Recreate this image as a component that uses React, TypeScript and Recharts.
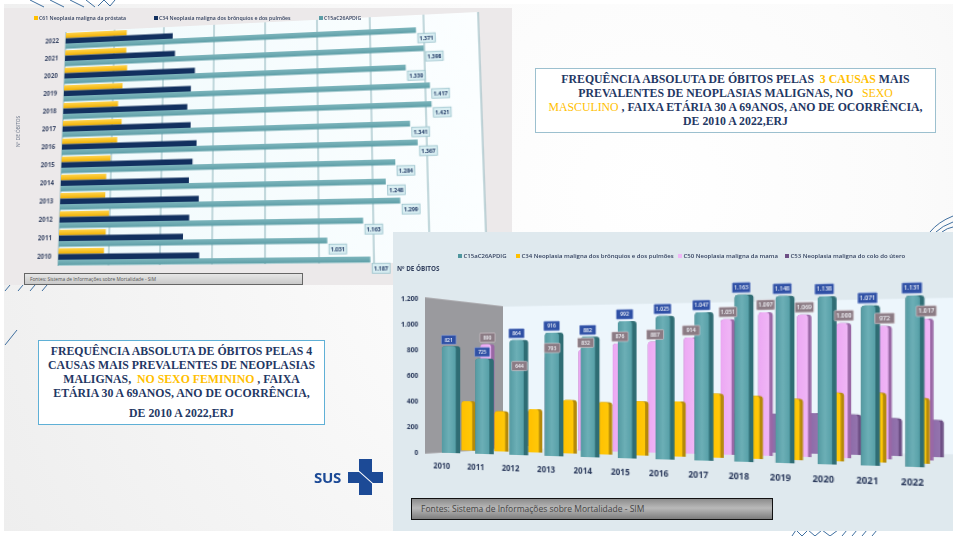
import { Bar, BarChart, CartesianGrid, LabelList, XAxis, YAxis } from "recharts";

type Pt = [number, number];

// Male panel, listed top row first
const maleYears = ["2022", "2021", "2020", "2019", "2018", "2017", "2016", "2015", "2014", "2013", "2012", "2011", "2010"];
const prostate = [250, 250, 255, 238, 222, 238, 222, 197, 182, 180, 197, 186, 181];
const lungMale = [436, 446, 526, 511, 498, 512, 536, 521, 508, 547, 511, 488, 551];
const colonMale = [1371, 1398, 1330, 1417, 1421, 1341, 1367, 1284, 1248, 1299, 1163, 1031, 1187];
const maleTicks = [0, 200, 400, 600, 800, 1000, 1200, 1400, 1600];

// Female panel
const femaleYears = ["2010", "2011", "2012", "2013", "2014", "2015", "2016", "2017", "2018", "2019", "2020", "2021", "2022"];
const colonFemale = [821, 725, 864, 916, 882, 992, 1025, 1047, 1163, 1148, 1138, 1071, 1131];
const lungFemale = [397, 320, 340, 414, 400, 410, 413, 474, 460, 442, 487, 489, 455];
const breast = [890, 644, 793, 832, 876, 887, 914, 1051, 1097, 1069, 1000, 972, 1017];
const cervix = [290, 300, 285, 295, 290, 300, 305, 310, 315, 325, 320, 295, 285];
const femaleTicks = [0, 200, 400, 600, 800, 1000, 1200];

const maleRows = maleYears.map((year, i) => ({ year, prostate: prostate[i], lung: lungMale[i], colon: colonMale[i] }));
const femaleRows = femaleYears.map((year, i) => ({
  year,
  colon: colonFemale[i],
  lung: lungFemale[i],
  breast: breast[i],
  cervix: cervix[i],
}));

const NAVY = "#1f3864";
const GOLD = "#ffc000";
const SANS = "'Open Sans', sans-serif";

const thousands = (n: number) =>
  n >= 1000 ? `${Math.floor(n / 1000)}.${String(n % 1000).padStart(3, "0")}` : String(n);

// Solves the 8x8 system for the projective map taking src corners to dst corners
function matrix3d(src: Pt[], dst: Pt[]) {
  const A: number[][] = [];
  src.forEach(([x, y], i) => {
    const [u, v] = dst[i];
    A.push([x, y, 1, 0, 0, 0, -u * x, -u * y, u]);
    A.push([0, 0, 0, x, y, 1, -v * x, -v * y, v]);
  });
  for (let c = 0; c < 8; c++) {
    let p = c;
    for (let r = c + 1; r < 8; r++) if (Math.abs(A[r][c]) > Math.abs(A[p][c])) p = r;
    [A[c], A[p]] = [A[p], A[c]];
    for (let r = 0; r < 8; r++) {
      if (r === c) continue;
      const f = A[r][c] / A[c][c];
      for (let k = c; k < 9; k++) A[r][k] -= f * A[c][k];
    }
  }
  const h = A.map((row, i) => row[8] / row[i]);
  return `matrix3d(${h[0]},${h[3]},0,${h[6]},${h[1]},${h[4]},0,${h[7]},0,0,1,0,${h[2]},${h[5]},0,1)`;
}

const rectCorners = (x: number, y: number, w: number, h: number): Pt[] => [
  [x, y],
  [x + w, y],
  [x + w, y + h],
  [x, y + h],
];

function Tilted({ src, dst, children }: { src: Pt[]; dst: Pt[]; children: any }) {
  return (
    <div style={{ position: "absolute", left: 0, top: 0, transformOrigin: "0 0", transform: matrix3d(src, dst) }}>
      {children}
    </div>
  );
}

function Legend({ items, top, size, fontSize }: { items: { x: number; name: string; color: string }[]; top: number; size: number; fontSize: number }) {
  return (
    <>
      {items.map((it) => (
        <div
          key={it.name}
          style={{ position: "absolute", left: it.x, top, display: "flex", alignItems: "center", gap: 1.5, whiteSpace: "nowrap", fontFamily: SANS, fontWeight: 600, fontSize, color: "#33415f", lineHeight: "8px" }}
        >
          <span style={{ width: size, height: size, background: it.color, display: "inline-block" }} />
          {it.name}
        </div>
      ))}
    </>
  );
}

/* ---------- horizontal bars, male panel ---------- */

function MaleValueLabel(props: any) {
  const { x, y, width, height, value } = props;
  const bx = x + width + 1.5;
  const cy = y + height / 2 + 8;
  return (
    <g>
      <rect x={bx} y={cy - 4.5} width={16} height={9} fill="#d9eef2" stroke="#9cc3cc" strokeWidth={0.8} />
      <text x={bx + 8} y={cy + 1.8} textAnchor="middle" fontSize={5} fontWeight={700} fontFamily={SANS} fill={NAVY}>
        {thousands(value)}
      </text>
    </g>
  );
}

function MaleChart() {
  const plotW = 400;
  const plotH = 234;
  return (
    <Tilted
      src={rectCorners(60, 10, plotW, plotH)}
      dst={[[66, 32], [478, 12], [487, 262], [58, 266]]}
    >
      <BarChart
        width={520}
        height={254}
        layout="vertical"
        data={maleRows}
        barSize={5.5}
        barGap={0}
        margin={{ top: 10, right: 60, bottom: 10, left: 0 }}
      >
        <defs>
          <linearGradient id="maleWall" x1="0" y1="0" x2="1" y2="0">
            <stop offset="0" stopColor="#f0fafc" />
            <stop offset="1" stopColor="#fbfeff" />
          </linearGradient>
          <linearGradient id="maleGold" x1="0" y1="0" x2="0" y2="1">
            <stop offset="0" stopColor="#ffd34d" />
            <stop offset="1" stopColor="#f0b000" />
          </linearGradient>
          <linearGradient id="maleTeal" x1="0" y1="0" x2="0" y2="1">
            <stop offset="0" stopColor="#7db5bc" />
            <stop offset="1" stopColor="#5d9ea7" />
          </linearGradient>
        </defs>
        <CartesianGrid horizontal={false} stroke="#8db4bb" fill="url(#maleWall)" />
        <XAxis type="number" domain={[0, 1600]} ticks={maleTicks} hide />
        <YAxis
          type="category"
          dataKey="year"
          width={60}
          interval={0}
          axisLine={false}
          tickLine={false}
          tickSize={0}
          tickMargin={7}
          tick={{ fontSize: 6.2, fontWeight: 700, fontFamily: SANS, fill: "#3a4766" }}
        />
        <Bar dataKey="prostate" fill="url(#maleGold)" isAnimationActive={false} />
        <Bar dataKey="lung" fill="#12305f" isAnimationActive={false} />
        <Bar dataKey="colon" fill="url(#maleTeal)" isAnimationActive={false}>
          <LabelList dataKey="colon" content={MaleValueLabel} />
        </Bar>
      </BarChart>
    </Tilted>
  );
}

/* ---------- columns, female panel ---------- */

// Series stand one behind the other: rows further back sit shifted, lifted and shrunk
const rowDepth = [
  { dx: [0, 0], lift: 0, ratio: [1, 1] },
  { dx: [19, 6], lift: 3, ratio: [0.95, 0.95] },
  { dx: [39, 9], lift: 6, ratio: [0.886, 0.915] },
  { dx: [50, 17], lift: 9, ratio: [0.85, 0.85] },
];

function columnBox(props: any, row: number) {
  const { x, y, width, height, index } = props;
  const t = index / 12;
  const d = rowDepth[row];
  const w = (row === 0 ? 20 : 15) - (row === 0 ? 5 : 3.5) * t;
  const cx = x + width / 2 + d.dx[0] + (d.dx[1] - d.dx[0]) * t;
  const base = y + height - d.lift;
  return { cx, w, base, top: base - height * (d.ratio[0] + (d.ratio[1] - d.ratio[0]) * t) };
}

const dome = (l: number, r: number, t: number, b: number) =>
  `M${l},${b} L${l},${t + 3} Q${l},${t} ${l + 3},${t} L${r - 3},${t} Q${r},${t} ${r},${t + 3} L${r},${b} Z`;

function makeColumn(row: number, gradient: string, side: string) {
  return (props: any) => {
    const { cx, w, base, top } = columnBox(props, row);
    const l = cx - w / 2;
    return (
      <g>
        <path d={dome(l, l + w, top, base)} fill={side} />
        <path d={dome(l, l + w * 0.76, top, base)} fill={`url(#${gradient})`} />
      </g>
    );
  };
}

function makeTag(row: number, fill: string, stroke: string) {
  return (props: any) => {
    const { value } = props;
    const { cx, top } = columnBox(props, row);
    const lx = cx - (row === 0 ? 2.5 : 0);
    return (
      <g>
        <rect x={lx - 8} y={top - 11} width={16} height={9} rx={0.8} fill={fill} stroke={stroke} strokeWidth={0.6} />
        <text x={lx} y={top - 4.6} textAnchor="middle" fontSize={5} fontWeight={600} fontFamily={SANS} fill="#f4f6fb">
          {thousands(value)}
        </text>
      </g>
    );
  };
}

// Year labels drift right along the floor
function YearTick({ x, y, payload, index }: any) {
  return (
    <text x={x - 10 + (8 * index) / 12} y={y + 8} textAnchor="middle" fontSize={8} fontWeight={700} fontFamily={SANS} fill="#2b3a5c">
      {payload.value}
    </text>
  );
}

function Wall({ dst, fill, stroke }: { dst: Pt[]; fill: string; stroke: string }) {
  return (
    <Tilted src={rectCorners(0, 0, 300, 150)} dst={dst}>
      <BarChart width={300} height={150} data={femaleRows} margin={{ top: 0, right: 0, bottom: 0, left: 0 }}>
        <XAxis dataKey="year" hide />
        <YAxis type="number" domain={[0, 1200]} ticks={femaleTicks} hide />
        <CartesianGrid vertical={false} fill={fill} stroke={stroke} />
      </BarChart>
    </Tilted>
  );
}

function FemaleChart() {
  const left = 40;
  const top = 30;
  const band = 36;
  const valueH = 156;
  const firstX = left + band / 2;
  const lastX = left + band * 12.5;
  return (
    <Tilted
      src={[[firstX, top], [lastX, top], [lastX, top + valueH], [firstX, top + valueH]]}
      dst={[[451, 297], [915, 285], [915, 467], [451, 453]]}
    >
      <BarChart
        width={left + band * 13 + 60}
        height={top + valueH + 34}
        data={femaleRows}
        barSize={20}
        barGap={-20}
        margin={{ top, right: 60, bottom: 0, left: 0 }}
      >
        <defs>
          <linearGradient id="colTeal" x1="0" y1="0" x2="1" y2="0">
            <stop offset="0" stopColor="#549aa2" />
            <stop offset="0.5" stopColor="#6cafb6" />
            <stop offset="1" stopColor="#569fa7" />
          </linearGradient>
          <linearGradient id="colGold" x1="0" y1="0" x2="1" y2="0">
            <stop offset="0" stopColor="#ffc000" />
            <stop offset="1" stopColor="#ffc808" />
          </linearGradient>
          <linearGradient id="colPink" x1="0" y1="0" x2="1" y2="0">
            <stop offset="0" stopColor="#eca8f3" />
            <stop offset="1" stopColor="#f0b6f6" />
          </linearGradient>
          <linearGradient id="colPurple" x1="0" y1="0" x2="1" y2="0">
            <stop offset="0" stopColor="#8a68a6" />
            <stop offset="1" stopColor="#9474ae" />
          </linearGradient>
        </defs>
        <XAxis
          dataKey="year"
          height={34}
          interval={0}
          axisLine={false}
          tickLine={false}
          tickSize={0}
          tickMargin={8}
          tick={YearTick}
        />
        <YAxis
          type="number"
          width={left}
          domain={[0, 1200]}
          ticks={femaleTicks}
          tickFormatter={thousands}
          axisLine={false}
          tickLine={false}
          tickSize={6}
          tickMargin={12}
          tick={{ fontSize: 7.5, fontWeight: 700, fontFamily: SANS, fill: "#2b3a5c" }}
        />
        <Bar dataKey="cervix" isAnimationActive={false} shape={makeColumn(3, "colPurple", "#6d4f85")} />
        <Bar dataKey="breast" isAnimationActive={false} shape={makeColumn(2, "colPink", "#9a68a6")} />
        <Bar dataKey="lung" isAnimationActive={false} shape={makeColumn(1, "colGold", "#b58a0a")} />
        <Bar dataKey="colon" isAnimationActive={false} shape={makeColumn(0, "colTeal", "#2f6d74")} />
        {/* value tags go last so they stay above every column */}
        <Bar dataKey="breast" isAnimationActive={false} shape={() => <g />}>
          <LabelList dataKey="breast" content={makeTag(2, "#8b7b84", "#d9ced4")} />
        </Bar>
        <Bar dataKey="colon" isAnimationActive={false} shape={() => <g />}>
          <LabelList dataKey="colon" content={makeTag(0, "#2f50a5", "#8ea3d6")} />
        </Bar>
      </BarChart>
    </Tilted>
  );
}

/* ---------- page pieces ---------- */

function TitleLine({ children, top }: { children: any; top: number }) {
  return <div style={{ position: "absolute", left: 0, right: 0, top, textAlign: "center", whiteSpace: "nowrap" }}>{children}</div>;
}

const Hi = ({ children, bold }: { children: string; bold?: boolean }) => (
  <span style={{ color: GOLD, fontWeight: bold ? 700 : 400 }}>{children}</span>
);

function TitleBox({ left, top, width, height, border, children }: any) {
  return (
    <div
      style={{
        position: "absolute", left, top, width, height, boxSizing: "border-box", background: "#fff",
        border: `1.5px solid ${border}`, fontFamily: "'Liberation Serif', serif", fontWeight: 700,
        fontSize: 11.8, lineHeight: "14px", color: NAVY,
      }}
    >
      {children}
    </div>
  );
}

function Scribbles() {
  const strokes = [
    "M30,0 L44,7", "M50,0 L64,7", "M70,0 L84,7", "M86,0 L95,7", "M98,6 L104,0 L110,6 L115,0",
    "M5,345 L17,330", "M5,291 L10,285", "M18,291 L23,285", "M30,291 L35,285", "M42,291 L47,285",
    "M792,536 L796,530 L802,536 L808,530 L815,536 L822,530 L830,536 L838,530", "M842,536 L847,530", "M852,536 L857,530", "M862,536 L867,530", "M872,536 L877,530",
    "M930,232 Q938,222 953,216", "M936,232 Q942,226 953,222", "M942,232 Q947,228 953,227",
  ];
  return (
    <svg width={953} height={536} style={{ position: "absolute", left: 0, top: 0 }}>
      {strokes.map((d) => (
        <path key={d} d={d} fill="none" stroke="#3f6f9f" strokeWidth={1} />
      ))}
    </svg>
  );
}

function SusLogo() {
  return (
    <div style={{ position: "absolute", left: 314, top: 459, width: 70, height: 36, overflow: "hidden" }}>
      <div style={{ position: "absolute", left: 0, top: 8, fontFamily: SANS, fontWeight: 700, fontSize: 15, lineHeight: "20px", color: "#1c4a96", letterSpacing: -0.3 }}>
        SUS
      </div>
      <div style={{ position: "absolute", left: 34, top: 13, width: 35, height: 11, background: "#1c4a96" }} />
      <div style={{ position: "absolute", left: 45, top: 0, width: 13, height: 36, background: "#1c4a96" }} />
      <div style={{ position: "absolute", left: 42, top: 18, width: 20, height: 0.8, background: "#fff", transform: "rotate(42deg)" }} />
    </div>
  );
}

const maleLegend = [
  { x: 34, name: "C61 Neoplasia maligna da próstata", color: GOLD },
  { x: 154, name: "C34 Neoplasia maligna dos brônquios e dos pulmões", color: "#12305f" },
  { x: 319, name: "C15aC26APDIG", color: "#5d9ea7" },
];
const femaleLegend = [
  { x: 458, name: "C15aC26APDIG", color: "#4f969e" },
  { x: 516, name: "C34 Neoplasia maligna dos brônquios e dos pulmões", color: GOLD },
  { x: 678, name: "C50 Neoplasia maligna da mama", color: "#f0b6f6" },
  { x: 785, name: "C53 Neoplasia maligna do colo do útero", color: "#6d4f85" },
];

export default function App() {
  return (
    <div style={{ position: "absolute", left: 0, top: 0, width: 953, height: 536, overflow: "hidden", background: "#fff" }}>
      <div style={{ position: "absolute", left: 4, top: 4, width: 949, height: 527, background: "radial-gradient(circle at 68% 35%, #ffffff 0%, #fbfbfb 35%, #eeeeee 100%)" }} />
      <Scribbles />

      {/* male panel */}
      <div style={{ position: "absolute", left: 0, top: 0, width: 953, height: 536, overflow: "hidden", filter: "blur(0.5px)" }}>
        <div style={{ position: "absolute", left: 4, top: 8, width: 508, height: 277, background: "#ece9ea" }} />
        <MaleChart />
        <Legend items={maleLegend} top={14} size={3.5} fontSize={5.2} />
        <div style={{ position: "absolute", left: 15, top: 147, transformOrigin: "0 0", transform: "rotate(-90deg)", whiteSpace: "nowrap", fontFamily: SANS, fontSize: 4.8, color: "#6a7488" }}>
          Nº DE ÓBITOS
        </div>
        <div style={{ position: "absolute", left: 24, top: 273, width: 279, height: 12, boxSizing: "border-box", border: "1px solid #666", background: "linear-gradient(#e6e6e6, #c9c9c9)", fontFamily: SANS, fontSize: 4.8, lineHeight: "10px", paddingLeft: 5, color: "#555" }}>
          Fontes: Sistema de Informações sobre Mortalidade - SIM
        </div>
      </div>

      {/* female panel */}
      <div style={{ position: "absolute", left: 393, top: 232, width: 560, height: 299, background: "#dfe9ee" }} />
      <div style={{ position: "absolute", left: 393, top: 232, width: 560, height: 299, overflow: "hidden", filter: "blur(0.5px)" }}>
        <div style={{ position: "absolute", left: -393, top: -232, width: 953, height: 536 }}>
          <Wall dst={[[425, 297], [503, 306], [503, 449], [425, 454]]} fill="#9a9a9e" stroke="#c4c4c8" />
          <Wall dst={[[503, 306], [953, 297], [953, 455], [503, 449]]} fill="#edf6fc" stroke="#d9e3ea" />
          <FemaleChart />
          <Legend items={femaleLegend} top={252} size={4} fontSize={6} />
          <div style={{ position: "absolute", left: 397, top: 265, fontFamily: SANS, fontWeight: 700, fontSize: 6.3, lineHeight: "8px", color: "#33415f", whiteSpace: "nowrap" }}>
            Nº DE ÓBITOS
          </div>
          <div style={{ position: "absolute", left: 411, top: 498, width: 362, height: 22, boxSizing: "border-box", border: "1px solid #111", background: "linear-gradient(#8c8c8c, #b9b9b9 45%, #7d7d7d)", fontFamily: SANS, fontSize: 8.5, lineHeight: "20px", paddingLeft: 9, color: "#444", whiteSpace: "nowrap" }}>
            Fontes: Sistema de Informações sobre Mortalidade - SIM
          </div>
        </div>
      </div>

      <TitleBox left={535} top={68} width={401} height={65} border="#9cc0cf">
        <TitleLine top={3}>FREQUÊNCIA ABSOLUTA DE ÓBITOS PELAS&nbsp; <Hi bold>3 CAUSAS</Hi> MAIS</TitleLine>
        <TitleLine top={17}>PREVALENTES DE NEOPLASIAS MALIGNAS, NO&nbsp; &nbsp;<Hi>SEXO</Hi></TitleLine>
        <TitleLine top={31}><Hi>MASCULINO</Hi> , FAIXA ETÁRIA 30 A 69ANOS, ANO DE OCORRÊNCIA,</TitleLine>
        <TitleLine top={45}>DE 2010 A 2022,ERJ</TitleLine>
      </TitleBox>

      <TitleBox left={38} top={340} width={287} height={85} border="#5fb0d6">
        <TitleLine top={3}>FREQUÊNCIA ABSOLUTA DE ÓBITOS PELAS 4</TitleLine>
        <TitleLine top={17}>CAUSAS MAIS PREVALENTES DE NEOPLASIAS</TitleLine>
        <TitleLine top={31}>MALIGNAS,&nbsp; <Hi bold>NO SEXO FEMININO</Hi> , FAIXA</TitleLine>
        <TitleLine top={45}>ETÁRIA 30 A 69ANOS, ANO DE OCORRÊNCIA,</TitleLine>
        <TitleLine top={65}>DE 2010 A 2022,ERJ</TitleLine>
      </TitleBox>

      <SusLogo />
    </div>
  );
}
